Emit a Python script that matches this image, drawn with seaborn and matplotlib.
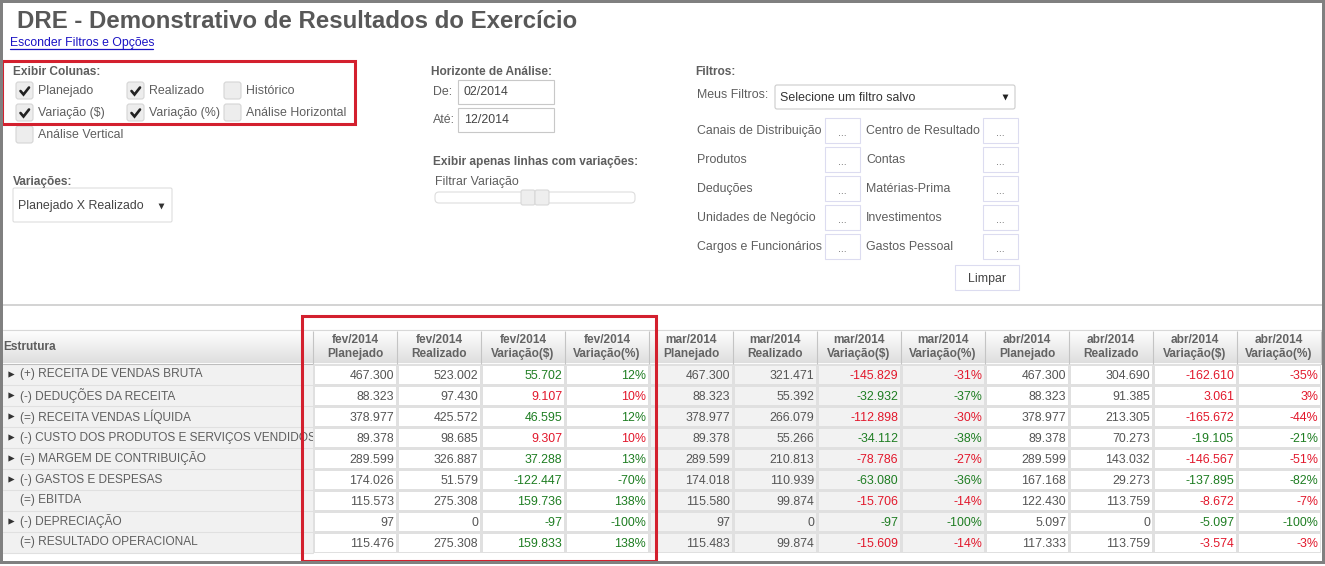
from __future__ import annotations

import matplotlib

matplotlib.use("Agg")
import matplotlib.pyplot as plt
from matplotlib.colors import ListedColormap
from matplotlib.patches import FancyBboxPatch, Rectangle
from matplotlib.transforms import Bbox
import numpy as np
import seaborn as sns

WIDTH, HEIGHT = 1325, 566

MONTHS = ["fev/2014", "mar/2014", "abr/2014"]
MEASURES = ["Planejado", "Realizado", "Variação($)", "Variação(%)"]
ROWS = [
    "(+) RECEITA DE VENDAS BRUTA",
    "(-) DEDUÇÕES DA RECEITA",
    "(=) RECEITA VENDAS LÍQUIDA",
    "(-) CUSTO DOS PRODUTOS E SERVIÇOS VENDIDOS",
    "(=) MARGEM DE CONTRIBUIÇÃO",
    "(-) GASTOS E DESPESAS",
    "(=) EBITDA",
    "(-) DEPRECIAÇÃO",
    "(=) RESULTADO OPERACIONAL",
]
EXPANDABLE = [True, True, True, True, True, True, False, True, False]
# +1: a positive variation is good (green), -1: a positive variation is bad (red)
FAVORABLE = [1, -1, 1, -1, 1, -1, 1, -1, 1]

FEV_PLAN = [467300, 88323, 378977, 89378, 289599, 174026, 115573, 97, 115476]
FEV_REAL = [523002, 97430, 425572, 98685, 326887, 51579, 275308, 0, 275308]
FEV_VAR = [55702, 9107, 46595, 9307, 37288, -122447, 159736, -97, 159833]
FEV_PCT = [12, 10, 12, 10, 13, -70, 138, -100, 138]

MAR_PLAN = [467300, 88323, 378977, 89378, 289599, 174018, 115580, 97, 115483]
MAR_REAL = [321471, 55392, 266079, 55266, 210813, 110939, 99874, 0, 99874]
MAR_VAR = [-145829, -32932, -112898, -34112, -78786, -63080, -15706, -97, -15609]
MAR_PCT = [-31, -37, -30, -38, -27, -36, -14, -100, -14]

ABR_PLAN = [467300, 88323, 378977, 89378, 289599, 167168, 122430, 5097, 117333]
ABR_REAL = [304690, 91385, 213305, 70273, 143032, 29273, 113759, 0, 113759]
ABR_VAR = [-162610, 3061, -165672, -19105, -146567, -137895, -8672, -5097, -3574]
ABR_PCT = [-35, 3, -44, -21, -51, -82, -7, -100, -3]

COLUMN_OPTIONS = [
    ("Planejado", True), ("Realizado", True), ("Histórico", False),
    ("Variação ($)", True), ("Variação (%)", True), ("Análise Horizontal", False),
    ("Análise Vertical", False),
]
FILTER_LEFT = ["Canais de Distribuição", "Produtos", "Deduções", "Unidades de Negócio", "Cargos e Funcionários"]
FILTER_RIGHT = ["Centro de Resultado", "Contas", "Matérias-Prima", "Investimentos", "Gastos Pessoal"]

GREY_TEXT = "#5e5e5e"
GREEN = "#1e7d22"
RED = "#e2182c"
LINE = "#e0e0e0"
FRAME = "#808080"
BOX_RED = "#d3202e"
BODY = 8.9
BOLD = 8.55
LOW = 0.8


def fmt_number(value: int) -> str:
    return f"{value:,}".replace(",", ".")


def label(ui, x, y, text, bold=False, size=None, color=GREY_TEXT, **kwargs):
    if size is None:
        size = BOLD if bold else BODY
    ui.text(x, y + 0.8, text, fontsize=size, color=color, va="center",
            fontweight="bold" if bold else "normal", **kwargs)


def rounded_box(ui, x0, y0, x1, y1, face="white", edge="#dcdcf0", radius=1.5, lw=LOW):
    ui.add_patch(FancyBboxPatch((x0, y0), x1 - x0, y1 - y0,
                                boxstyle=f"round,pad=0,rounding_size={radius}",
                                facecolor=face, edgecolor=edge, linewidth=lw))


def checkbox(ui, x, y, checked):
    rounded_box(ui, x, y, x + 17, y + 17, face="#ededed", edge="#d5d5d5", radius=2.5)
    if checked:
        ui.plot([x + 4.5, x + 7.5, x + 13], [y + 9, y + 12.5, y + 5.5], color="#222222", lw=1.9,
                solid_capstyle="round", solid_joinstyle="miter")


def draw_filters(ui):
    ui.text(17, 21, "DRE - Demonstrativo de Resultados do Exercício", fontsize=17.3,
            fontweight="bold", color="#585858", va="center")
    ui.text(10, 43, "Esconder Filtros e Opções", fontsize=8.85, color="#1a12c4", va="center")
    ui.plot([10, 153], [48.5, 48.5], color="#1a12c4", lw=0.9)

    label(ui, 13, 71, "Exibir Colunas:", bold=True)
    box_x = [16, 127, 224, 16, 127, 224, 16]
    box_y = [82, 82, 82, 104, 104, 104, 126]
    for (name, checked), x, y in zip(COLUMN_OPTIONS, box_x, box_y):
        checkbox(ui, x, y, checked)
        label(ui, x + 22, y + 8.5, name)

    label(ui, 13, 181, "Variações:", bold=True)
    rounded_box(ui, 13, 188, 172, 222, edge="#dddddd")
    label(ui, 18, 205, "Planejado X Realizado", color="#444444")
    ui.scatter([161], [206], marker="v", s=18, color="#333333", linewidths=0)

    label(ui, 431, 71, "Horizonte de Análise:", bold=True)
    label(ui, 433, 91, "De:")
    label(ui, 433, 119, "Até:")
    for y, value in [(80, "02/2014"), (108, "12/2014")]:
        ui.add_patch(Rectangle((458, y), 96, 24, facecolor="white", edgecolor="#c8c8c8", lw=LOW))
        label(ui, 464, y + 11.5, value, color="#444444")

    label(ui, 433, 161, "Exibir apenas linhas com variações:", bold=True)
    label(ui, 435, 181, "Filtrar Variação")
    rounded_box(ui, 435, 192, 635, 203, edge="#dddddd", radius=4)
    for x in (521, 535):
        rounded_box(ui, x, 190, x + 14, 205, face="#eeeeee", edge="#d8d8d8", radius=2)

    label(ui, 695, 71, "Filtros:", bold=True)
    label(ui, 697, 94, "Meus Filtros:")
    rounded_box(ui, 775, 85, 1015, 109, edge="#cccccc", radius=2)
    label(ui, 780, 97, "Selecione um filtro salvo", color="#333333")
    ui.scatter([1005], [97], marker="v", s=18, color="#222222", linewidths=0)

    for i, (left, right) in enumerate(zip(FILTER_LEFT, FILTER_RIGHT)):
        y = 118 + 29 * i
        label(ui, 697, y + 12, left)
        label(ui, 866, y + 12, right)
        for x in (825, 983):
            ui.add_patch(Rectangle((x, y), 35, 25, facecolor="white", edgecolor="#dcdcf0", lw=LOW))
            label(ui, x + 17.5, y + 14, "...", size=7.5, ha="center")
    ui.add_patch(Rectangle((955, 265), 64, 25, facecolor="white", edgecolor="#dcdcf0", lw=LOW))
    label(ui, 987, 278, "Limpar", ha="center", color="#444444")


def draw_table_background(ui):
    ui.plot([3, 1322], [305, 305], color="#c8c8c8", lw=1.1)
    gradient = np.linspace(1.0, 0.87, 64).reshape(-1, 1)
    ui.imshow(gradient, extent=(3, 1322, 363.5, 330), cmap="gray", vmin=0, vmax=1,
              aspect="auto", zorder=1)
    ui.plot([3, 1322], [330, 330], color="#d8d8d8", lw=LOW, zorder=2)
    ui.plot([3, 1322], [363.5, 363.5], color="#bdbdbd", lw=LOW, zorder=2)
    ui.add_patch(Rectangle((3, 364), 310, 189, facecolor="#f1f1f1", edgecolor="none", zorder=1))
    for i in range(1, len(ROWS) + 1):
        ui.plot([3, 313], [364 + 21 * i] * 2, color=LINE, lw=LOW, zorder=2)
    for i, expandable in enumerate(EXPANDABLE):
        if expandable:
            ui.scatter([11], [373.5 + 21 * i], marker=">", s=20, color="#333333", linewidths=0, zorder=3)
    label(ui, 3, 346, "Estrutura", bold=True, zorder=3)


def main():
    sns.set_theme(style="white")
    plt.rcParams["font.family"] = ["Liberation Sans", "DejaVu Sans"]

    fig = plt.figure(figsize=(WIDTH / 100, HEIGHT / 100), dpi=100, facecolor="white")

    ui = fig.add_axes([0, 0, 1, 1], zorder=0)
    ui.axis("off")
    draw_filters(ui)
    draw_table_background(ui)
    ui.set_xlim(0, WIDTH)
    ui.set_ylim(HEIGHT, 0)

    series = [
        FEV_PLAN, FEV_REAL, FEV_VAR, FEV_PCT,
        MAR_PLAN, MAR_REAL, MAR_VAR, MAR_PCT,
        ABR_PLAN, ABR_REAL, ABR_VAR, ABR_PCT,
    ]
    columns = [f"{month}\n{measure}" for month in MONTHS for measure in MEASURES]

    labels = np.empty((len(ROWS), len(columns)), dtype=object)
    colors = np.empty((len(ROWS), len(columns)), dtype=object)
    shade = np.zeros((len(ROWS), len(columns)))
    for c, values in enumerate(series):
        measure = c % len(MEASURES)
        for r, value in enumerate(values):
            labels[r, c] = f"{value}%" if measure == 3 else fmt_number(value)
            shade[r, c] = (c // len(MEASURES)) % 2
            if measure < 2:
                colors[r, c] = "#555555"
            else:
                colors[r, c] = GREEN if value * FAVORABLE[r] > 0 else RED

    # table area: 12 columns of 84 px, 9 rows of 21 px
    ax = fig.add_axes([313 / WIDTH, 1 - 553 / HEIGHT, 1008 / WIDTH, 189 / HEIGHT], zorder=2)
    sns.heatmap(
        shade, ax=ax, annot=labels, fmt="", cbar=False,
        cmap=ListedColormap(["#ffffff", "#f2f2f2"]), vmin=0, vmax=1,
        linewidths=LOW, linecolor=LINE,
        xticklabels=columns, yticklabels=ROWS,
        annot_kws={"fontsize": BODY},
    )

    n_cols = len(columns)
    for i, text in enumerate(ax.texts):
        r, c = divmod(i, n_cols)
        text.set_color(colors[r, c])
        text.set_ha("right")
        text.set_x(c + 0.965)
        text.set_y(r + 0.55)

    ax.xaxis.tick_top()
    ax.tick_params(axis="x", length=0, pad=2.6)
    ax.tick_params(axis="y", length=0, pad=(313 - 20) * 0.72)
    for tick in ax.get_xticklabels():
        tick.set_rotation(0)
        tick.set_fontsize(BOLD)
        tick.set_fontweight("bold")
        tick.set_color("#636363")
        tick.set_linespacing(1.25)
    for tick in ax.get_yticklabels():
        tick.set_rotation(0)
        tick.set_ha("left")
        tick.set_fontsize(8.6)
        tick.set_color(GREY_TEXT)
        # long labels are cut at the edge of the structure column
        tick.set_clip_box(Bbox([[0, 0], [316, HEIGHT]]))
        tick.set_clip_on(True)
    ax.vlines(range(n_cols + 1), 1, 1 + 33 / 189, transform=ax.get_xaxis_transform(),
              colors="#c4c4c4", lw=LOW, clip_on=False)

    # red highlight boxes, then the window frame over them
    for x, y, w, h in [(1.5, 60.5, 353.5, 63.5), (302, 315.5, 354, 245)]:
        fig.add_artist(Rectangle((x, y), w, h, transform=ui.transData, facecolor="none",
                                 edgecolor=BOX_RED, linewidth=2.2, zorder=5))
    frame = [(0, 0, WIDTH, 3), (0, 0, 3, 564), (1322, 0, 3, 564), (0, 561, WIDTH, 3)]
    for x, y, w, h in frame:
        fig.add_artist(Rectangle((x, y), w, h, transform=ui.transData, facecolor=FRAME,
                                 edgecolor="none", zorder=6))

    fig.savefig("out.png", dpi=100)


if __name__ == "__main__":
    main()
